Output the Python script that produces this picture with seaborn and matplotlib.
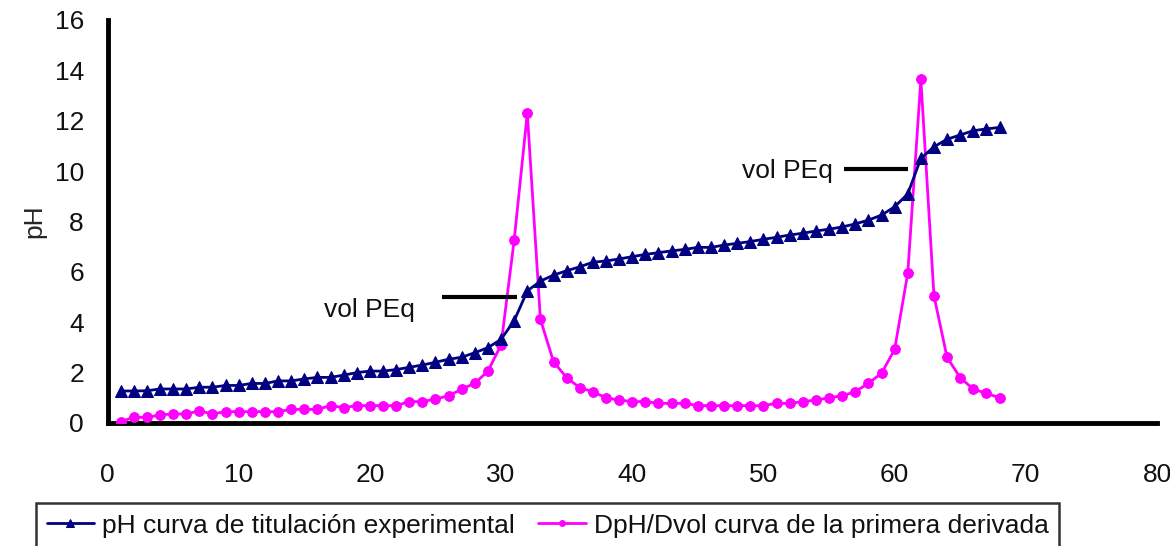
import matplotlib
matplotlib.use("Agg")
import matplotlib.pyplot as plt
import seaborn as sns
import pandas as pd
from matplotlib import font_manager

# Titration data: added volume and measured pH, plus first derivative dpH/dV
volumen = list(range(1, 69))

ph = [1.27, 1.27, 1.28, 1.35, 1.35, 1.35, 1.42, 1.42, 1.49, 1.49,
      1.57, 1.57, 1.67, 1.67, 1.75, 1.81, 1.81, 1.90, 2.00, 2.06,
      2.06, 2.12, 2.21, 2.30, 2.41, 2.53, 2.61, 2.79, 2.99, 3.32,
      4.06, 5.24, 5.63, 5.87, 6.04, 6.20, 6.38, 6.43, 6.51, 6.60,
      6.69, 6.76, 6.83, 6.89, 6.97, 6.97, 7.06, 7.13, 7.20, 7.29,
      7.37, 7.46, 7.53, 7.62, 7.69, 7.78, 7.90, 8.05, 8.25, 8.58,
      9.09, 10.50, 10.96, 11.26, 11.43, 11.60, 11.67, 11.73]

derivada = [0.05, 0.23, 0.22, 0.32, 0.36, 0.36, 0.48, 0.36, 0.45, 0.45,
            0.45, 0.45, 0.45, 0.54, 0.54, 0.54, 0.69, 0.61, 0.69, 0.69,
            0.69, 0.69, 0.85, 0.85, 0.95, 1.08, 1.34, 1.58, 2.06, 3.10,
            7.26, 12.30, 4.11, 2.43, 1.80, 1.40, 1.24, 1.00, 0.91, 0.85,
            0.85, 0.78, 0.78, 0.78, 0.69, 0.69, 0.69, 0.69, 0.69, 0.69,
            0.78, 0.78, 0.85, 0.91, 1.00, 1.08, 1.24, 1.58, 1.97, 2.92,
            5.94, 13.64, 5.04, 2.60, 1.80, 1.34, 1.18, 1.00]

etiqueta_ph = "pH curva de titulación experimental"
etiqueta_der = "DpH/Dvol curva de la primera derivada"
x_ticks = [0, 10, 20, 30, 40, 50, 60, 70, 80]
y_ticks = [0, 2, 4, 6, 8, 10, 12, 14, 16]

# Equivalence-point markers: (text x, text y, line x0, line x1, line y)
puntos_eq = [(16.5, 4.22, 25.5, 31.2, 5.01),
             (48.35, 9.71, 56.15, 61.05, 10.08)]

df = pd.DataFrame({"vol": volumen, "pH": ph, "dpH": derivada})

sns.set_style("white")
familias = {f.name for f in font_manager.fontManager.ttflist}
if "Liberation Sans Narrow" in familias:
    plt.rcParams["font.family"] = ["Liberation Sans Narrow", "DejaVu Sans"]
    fs = 23
else:
    plt.rcParams["font.family"] = ["Liberation Sans", "DejaVu Sans"]
    fs = 19

fig = plt.figure(figsize=(11.7, 5.46), dpi=100)
ax = fig.add_axes([107.5 / 1170, 1 - 423 / 546, (1157 - 107.5) / 1170, (423 - 19.8) / 546])

sns.lineplot(data=df, x="vol", y="dpH", ax=ax, color="#FF00FF", linewidth=2,
             marker="o", markersize=7, markeredgecolor="#FF00FF",
             label=etiqueta_der, zorder=3)
sns.lineplot(data=df, x="vol", y="pH", ax=ax, color="#000080", linewidth=2,
             marker="^", markersize=9, markeredgecolor="#000080",
             label=etiqueta_ph, zorder=4)

for tx, ty, lx0, lx1, ly in puntos_eq:
    ax.text(tx, ty, "vol PEq", fontsize=fs, color="#111111", va="baseline", ha="left")
    ax.plot([lx0, lx1], [ly, ly], color="black", linewidth=3, solid_capstyle="butt", zorder=5)

ax.set_xlim(0, 80)
ax.set_ylim(0, 16)
ax.set_xticks(x_ticks)
ax.set_yticks(y_ticks)
ax.set_xlabel("")
ax.set_ylabel("pH", fontsize=fs, labelpad=6)

for side in ("top", "right"):
    ax.spines[side].set_visible(False)
for side in ("left", "bottom"):
    ax.spines[side].set_linewidth(3.5)
    ax.spines[side].set_color("black")

ax.tick_params(axis="x", direction="out", length=7, width=3.5, pad=22, labelsize=fs, colors="black")
ax.tick_params(axis="y", direction="out", length=7, width=3.5, pad=10, labelsize=fs, colors="black")
for lab in ax.get_xticklabels() + ax.get_yticklabels():
    lab.set_color("#111111")

ax.get_legend().remove()
handles, labels = ax.get_legend_handles_labels()
order = [1, 0]
leg = fig.legend([handles[i] for i in order], [labels[i] for i in order],
                 loc="upper left", bbox_to_anchor=(36 / 1170, 1 - 503 / 546),
                 ncol=2, fontsize=fs, frameon=True, fancybox=False,
                 markerscale=0.6, handlelength=1.8 * 19 / fs, handletextpad=0.3,
                 columnspacing=0.9 * 19 / fs, borderpad=0.4 * 19 / fs, borderaxespad=0)
leg.get_frame().set_edgecolor("black")
leg.get_frame().set_linewidth(1.8)
for t in leg.get_texts():
    t.set_color("#111111")

fig.savefig("out.png", dpi=100)
